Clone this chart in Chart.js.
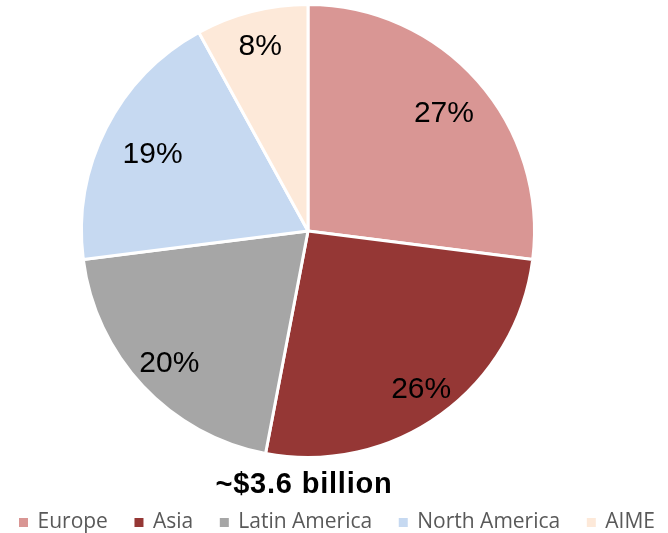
<!DOCTYPE html>
<html>
<head>
<meta charset="utf-8">
<script src="https://cdn.jsdelivr.net/npm/chart.js@4"></script>
<style>
  html, body { margin: 0; padding: 0; background: #ffffff; }
  #wrap { position: relative; width: 668px; height: 533px; }
</style>
</head>
<body>
<div id="wrap"><canvas id="chart" width="668" height="533"></canvas></div>
<script>
// Revenue split by region
const regions = ['Europe', 'Asia', 'Latin America', 'North America', 'AIME'];
const shares = [27, 26, 20, 19, 8];
const regionColors = ['#D99694', '#953735', '#A6A6A6', '#C6D9F1', '#FDE9D9'];
const totalLabel = '~$3.6 billion';

// radial placement of each percentage label, as a fraction of the radius
const labelRadius = [0.80, 0.85, 0.84, 0.77, 0.85];

const sliceLabels = {
  id: 'sliceLabels',
  afterDatasetsDraw(chart) {
    const ctx = chart.ctx;
    const meta = chart.getDatasetMeta(0);
    ctx.save();
    ctx.font = '30px "Liberation Sans", Arial, sans-serif';
    ctx.fillStyle = '#000000';
    ctx.textAlign = 'center';
    ctx.textBaseline = 'middle';
    meta.data.forEach((arc, i) => {
      const p = arc.getProps(['x', 'y', 'startAngle', 'endAngle', 'outerRadius'], true);
      const mid = (p.startAngle + p.endAngle) / 2;
      const r = p.outerRadius * labelRadius[i];
      // digits sit a little above the em-box middle, so drop them slightly
      ctx.fillText(shares[i] + '%', p.x + Math.cos(mid) * r, p.y + Math.sin(mid) * r + 2.5);
    });
    ctx.restore();
  }
};

// Total caption and legend row under the pie
const captionAndLegend = {
  id: 'captionAndLegend',
  afterDraw(chart) {
    const ctx = chart.ctx;
    ctx.save();
    ctx.fillStyle = '#000000';
    ctx.font = 'bold 29px "Liberation Sans", Arial, sans-serif';
    ctx.textAlign = 'center';
    ctx.textBaseline = 'alphabetic';
    if ('letterSpacing' in ctx) ctx.letterSpacing = '0.8px';
    ctx.fillText(totalLabel, 304, 493);
    if ('letterSpacing' in ctx) ctx.letterSpacing = '0px';

    ctx.font = '21px "Open Sans", sans-serif';
    ctx.textAlign = 'left';
    const box = 9, boxGap = 9.5;
    const left = 19, right = 655;
    const widths = regions.map(t => ctx.measureText(t).width);
    const used = widths.reduce((s, w) => s + box + boxGap + w, 0);
    const itemGap = (right - left - used) / (regions.length - 1);
    let x = left;
    regions.forEach((name, i) => {
      ctx.fillStyle = regionColors[i];
      ctx.fillRect(x, 518, box, box);
      ctx.fillStyle = '#595959';
      ctx.fillText(name, x + box + boxGap, 527.5);
      x += box + boxGap + widths[i] + itemGap;
    });
    ctx.restore();
  }
};

new Chart(document.getElementById('chart'), {
  type: 'pie',
  data: {
    labels: regions,
    datasets: [{
      data: shares,
      backgroundColor: regionColors,
      borderColor: '#ffffff',
      borderWidth: 3,
      hoverOffset: 0
    }]
  },
  options: {
    responsive: false,
    animation: false,
    events: [],
    radius: 226.5,
    layout: { padding: { left: 0, right: 52, top: 0, bottom: 71 } },
    plugins: {
      legend: { display: false },
      title: { display: false },
      tooltip: { enabled: false }
    }
  },
  plugins: [sliceLabels, captionAndLegend]
});
</script>
</body>
</html>
